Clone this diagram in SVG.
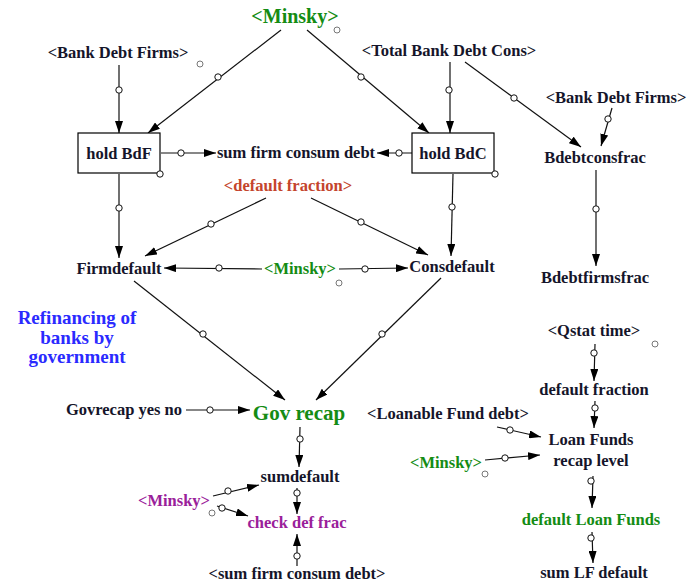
<svg xmlns="http://www.w3.org/2000/svg" width="688" height="584" viewBox="0 0 688 584">
  <style>
    text { font-family: 'Liberation Serif', 'Times New Roman', serif; font-weight: bold; font-size: 16.5px; fill: #15152a; text-anchor: middle; }
    .green { fill: #148c14; }
    .red { fill: #c4442c; }
    .purple { fill: #9a209a; }
    .blue { fill: #2a2aff; font-size: 19px; }
    .big { font-size: 20px; }
    .gov { font-size: 21px; }
    .box { fill: #ffffff; stroke: #000000; stroke-width: 1.2; }
    .link { fill: none; stroke: #111111; stroke-width: 1.2; marker-end: url(#arrow); }
    .mid { fill: #ffffff; stroke: #111111; stroke-width: 1; }
    .ghost { fill: #ffffff; stroke: #777777; stroke-width: 1; }
  </style>
  <defs>
    <marker id="arrow" viewBox="0 0 12 8" refX="12" refY="4" markerWidth="12" markerHeight="8" markerUnits="userSpaceOnUse" orient="auto">
      <path d="M0,0 L12,4 L0,8 Z" fill="#000000"/>
    </marker>
  </defs>
  <rect width="688" height="584" fill="#ffffff"/>

  <!-- causal links -->
  <g id="connectors">
    <line class="link" x1="119" y1="65" x2="119" y2="133"/>
    <line class="link" x1="281" y1="30" x2="148" y2="133"/>
    <line class="link" x1="307" y1="30" x2="429" y2="133"/>
    <line class="link" x1="450" y1="62" x2="450" y2="133"/>
    <line class="link" x1="465" y1="62" x2="581" y2="147"/>
    <line class="link" x1="612" y1="108" x2="601" y2="146"/>
    <line class="link" x1="161" y1="153" x2="216" y2="153"/>
    <line class="link" x1="412" y1="153" x2="377" y2="153"/>
    <line class="link" x1="119" y1="174" x2="119" y2="258"/>
    <line class="link" x1="453" y1="174" x2="451" y2="256"/>
    <line class="link" x1="266" y1="198" x2="145" y2="256"/>
    <line class="link" x1="311" y1="198" x2="428" y2="255"/>
    <line class="link" x1="262" y1="269" x2="164" y2="268"/>
    <line class="link" x1="339" y1="269" x2="408" y2="268"/>
    <line class="link" x1="596" y1="170" x2="596" y2="266"/>
    <line class="link" x1="134" y1="281" x2="285" y2="400"/>
    <line class="link" x1="441" y1="278" x2="316" y2="400"/>
    <line class="link" x1="186" y1="410" x2="250" y2="410"/>
    <line class="link" x1="300" y1="427" x2="299" y2="467"/>
    <line class="link" x1="595" y1="344" x2="594" y2="381"/>
    <line class="link" x1="595" y1="401" x2="594" y2="428"/>
    <line class="link" x1="497" y1="427" x2="541" y2="437"/>
    <line class="link" x1="485" y1="460" x2="540" y2="455"/>
    <line class="link" x1="593" y1="476" x2="592" y2="508"/>
    <line class="link" x1="592" y1="532" x2="593" y2="563"/>
    <line class="link" x1="213" y1="496" x2="259" y2="485"/>
    <line class="link" x1="217" y1="506" x2="248" y2="516"/>
    <line class="link" x1="297" y1="488" x2="297" y2="514"/>
    <line class="link" x1="297" y1="566" x2="297" y2="534"/>

    <!-- link handles -->
    <circle class="mid" cx="119" cy="90" r="3.2"/>
    <circle class="mid" cx="218" cy="77" r="3.2"/>
    <circle class="mid" cx="361" cy="77" r="3.2"/>
    <circle class="mid" cx="449" cy="90" r="3.2"/>
    <circle class="mid" cx="514" cy="98" r="3.2"/>
    <circle class="mid" cx="608" cy="119" r="3.2"/>
    <circle class="mid" cx="181" cy="153" r="3.2"/>
    <circle class="mid" cx="399" cy="153" r="3.2"/>
    <circle class="mid" cx="119" cy="208" r="3.2"/>
    <circle class="mid" cx="452" cy="207" r="3.2"/>
    <circle class="mid" cx="211" cy="224" r="3.2"/>
    <circle class="mid" cx="361" cy="222" r="3.2"/>
    <circle class="mid" cx="219" cy="268" r="3.2"/>
    <circle class="mid" cx="365" cy="269" r="3.2"/>
    <circle class="mid" cx="596" cy="209" r="3.2"/>
    <circle class="mid" cx="203" cy="334" r="3.2"/>
    <circle class="mid" cx="382" cy="334" r="3.2"/>
    <circle class="mid" cx="210" cy="410" r="3.2"/>
    <circle class="mid" cx="300" cy="439" r="3.2"/>
    <circle class="mid" cx="594" cy="353" r="3.2"/>
    <circle class="mid" cx="595" cy="408" r="3.2"/>
    <circle class="mid" cx="510" cy="430" r="3.2"/>
    <circle class="mid" cx="505" cy="458" r="3.2"/>
    <circle class="mid" cx="591" cy="481" r="3.2"/>
    <circle class="mid" cx="591" cy="538" r="3.2"/>
    <circle class="mid" cx="228" cy="491" r="3.2"/>
    <circle class="mid" cx="222" cy="508" r="3.2"/>
    <circle class="mid" cx="297" cy="493" r="3.2"/>
    <circle class="mid" cx="297" cy="556" r="3.2"/>
  </g>

  <g id="minsky-top">
    <text class="green big" x="295" y="23">&lt;Minsky&gt;</text>
    <circle class="ghost" cx="337" cy="30" r="3"/>
  </g>
  <g id="bank-debt-firms-left">
    <text x="118" y="58">&lt;Bank Debt Firms&gt;</text>
    <circle class="ghost" cx="200" cy="64" r="3"/>
  </g>
  <g id="total-bank-debt-cons">
    <text x="449" y="56">&lt;Total Bank Debt Cons&gt;</text>
  </g>
  <g id="bank-debt-firms-right">
    <text x="616" y="103">&lt;Bank Debt Firms&gt;</text>
  </g>
  <g id="hold-bdf">
    <rect class="box" x="78" y="133" width="82" height="40"/>
    <text x="119" y="159">hold BdF</text>
    <circle class="mid" cx="160" cy="174" r="3.2"/>
  </g>
  <g id="hold-bdc">
    <rect class="box" x="412" y="133" width="82" height="40"/>
    <text x="453" y="159">hold BdC</text>
    <circle class="mid" cx="495" cy="174" r="3.2"/>
  </g>
  <g id="sum-firm-consum-debt">
    <text x="296" y="158">sum firm consum debt</text>
  </g>
  <g id="bdebtconsfrac">
    <text x="595" y="163">Bdebtconsfrac</text>
  </g>
  <g id="default-fraction-shadow">
    <text class="red" x="288" y="191">&lt;default fraction&gt;</text>
  </g>
  <g id="firmdefault">
    <text x="119" y="274">Firmdefault</text>
  </g>
  <g id="minsky-mid">
    <text class="green" x="300" y="274">&lt;Minsky&gt;</text>
    <circle class="ghost" cx="339" cy="283" r="3"/>
  </g>
  <g id="consdefault">
    <text x="452" y="272">Consdefault</text>
  </g>
  <g id="bdebtfirmsfrac">
    <text x="595" y="283">Bdebtfirmsfrac</text>
  </g>
  <g id="title">
    <text class="blue" x="77" y="324">Refinancing of</text>
    <text class="blue" x="77" y="344">banks by</text>
    <text class="blue" x="77" y="363">government</text>
  </g>
  <g id="qstat-time">
    <text x="594" y="336">&lt;Qstat time&gt;</text>
    <circle class="ghost" cx="655" cy="344" r="3"/>
  </g>
  <g id="default-fraction">
    <text x="594" y="395">default fraction</text>
  </g>
  <g id="govrecap-yes-no">
    <text x="124" y="415">Govrecap yes no</text>
  </g>
  <g id="gov-recap">
    <text class="green gov" x="299" y="420">Gov recap</text>
  </g>
  <g id="loanable-fund-debt">
    <text x="448" y="419">&lt;Loanable Fund debt&gt;</text>
  </g>
  <g id="loan-funds-recap-level">
    <text x="591" y="445">Loan Funds</text>
    <text x="591" y="466">recap level</text>
  </g>
  <g id="minsky-right">
    <text class="green" x="446" y="468">&lt;Minsky&gt;</text>
    <circle class="ghost" cx="485" cy="474" r="3"/>
  </g>
  <g id="sumdefault">
    <text x="300" y="482">sumdefault</text>
  </g>
  <g id="minsky-purple">
    <text class="purple" x="174" y="506">&lt;Minsky&gt;</text>
    <circle class="ghost" cx="212" cy="513" r="3"/>
  </g>
  <g id="check-def-frac">
    <text class="purple" x="297" y="528">check def frac</text>
  </g>
  <g id="default-loan-funds">
    <text class="green" x="591" y="525">default Loan Funds</text>
  </g>
  <g id="sum-firm-consum-debt-shadow">
    <text x="297" y="579">&lt;sum firm consum debt&gt;</text>
  </g>
  <g id="sum-lf-default">
    <text x="594" y="578">sum LF default</text>
  </g>
</svg>
